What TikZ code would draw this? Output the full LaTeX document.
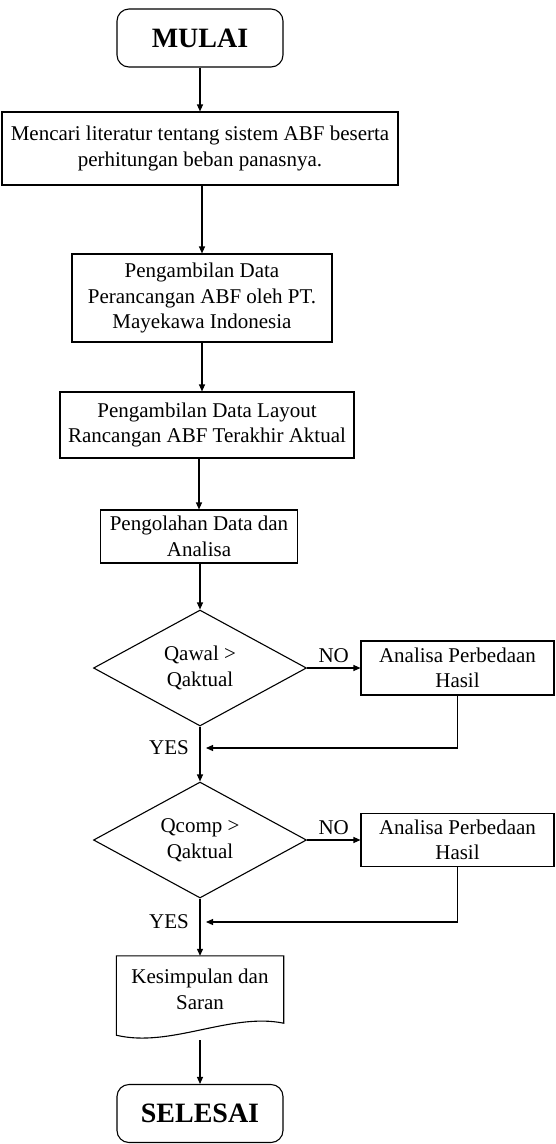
\documentclass[tikz,border=0pt]{standalone}
\usepackage{fontspec}
\setmainfont{Liberation Serif}
\usetikzlibrary{arrows.meta,positioning,calc,shapes.geometric}

\begin{document}
\begin{tikzpicture}[x=1pt,y=-1pt,
      font=\fontsize{21}{25.5}\selectfont,
      proc/.style={draw,line width=1.1pt,align=center,inner sep=2pt},
      term/.style={draw,line width=1.1pt,rounded corners=12pt,
                   minimum width=166pt,minimum height=58pt,
                   font=\fontsize{28}{30}\selectfont\bfseries},
      dec/.style={draw,diamond,aspect=2,line width=1.1pt,inner sep=0pt,
                  minimum width=213pt,minimum height=116pt,align=center},
      lbl/.style={inner sep=0pt},
      arr/.style={-{Triangle[length=7pt,width=6pt]},line width=1.1pt}]
    \useasboundingbox (0,0) rectangle (555,1144);

    \node[term] (mulai) at (200,38) {MULAI};
    \node[proc,minimum width=396pt,minimum height=73pt] (lit) at (200,148.5)
      {Mencari literatur tentang sistem ABF beserta\\perhitungan beban panasnya.};
    \node[proc,minimum width=260pt,minimum height=88pt] (data) at (202,298)
      {Pengambilan Data\\Perancangan ABF oleh PT.\\Mayekawa Indonesia};
    \node[proc,minimum width=294pt,minimum height=66pt] (layout) at (207,425)
      {Pengambilan Data Layout\\Rancangan ABF Terakhir Aktual};
    \node[proc,minimum width=197pt,minimum height=53pt] (olah) at (199,536.5)
      {Pengolahan Data dan\\Analisa};

    \node[dec] (qawal) at (200,668) {Qawal >\\Qaktual};
    \node[proc,minimum width=193pt,minimum height=54pt] (beda1) at (457.5,668)
      {Analisa Perbedaan\\Hasil};
    \node[dec] (qcomp) at (200,840) {Qcomp >\\Qaktual};
    \node[proc,minimum width=193pt,minimum height=53pt] (beda2) at (457.5,840)
      {Analisa Perbedaan\\Hasil};

    \node[minimum width=167pt,minimum height=67pt,align=center] (simpul) at (200,989.5)
      {Kesimpulan dan\\Saran};
    \draw[line width=1.1pt] (simpul.north west) -- (simpul.north east) -- (simpul.south east)
      .. controls ($(simpul.south east)+(-53,-11)$) and ($(simpul.south west)+(54,25)$)
      .. ($(simpul.south west)+(0,12)$) -- cycle;
    \node[term] (selesai) at (200,1113.5) {SELESAI};

    \coordinate (j1) at (200,748);
    \coordinate (j2) at (200,922);

    \draw[arr] (mulai) -- (lit);
    \draw[arr] (lit.south -| data) -- (data.north);
    \draw[arr] (data.south) -- (data.south |- layout.north);
    \draw[arr] (layout.south -| olah) -- (olah.north);
    \draw[arr] (olah.south -| qawal) -- (qawal.north);
    \draw[arr] (qawal.east) -- node[lbl,above=5pt] {NO} (beda1.west);
    \draw[arr] (qawal) -- (qcomp);
    \draw[arr] (beda1.south) |- ([xshift=6pt]j1);
    \draw[arr] (qcomp.east) -- node[lbl,above=5pt] {NO} (beda2.west);
    \draw[arr] (qcomp) -- (simpul);
    \draw[arr] (beda2.south) |- ([xshift=6pt]j2);
    \draw[arr] ([yshift=-17pt]simpul.south) -- (selesai);

    \node[lbl,left=11pt of j1] {YES};
    \node[lbl,left=11pt of j2] {YES};
  \end{tikzpicture}
\end{document}
